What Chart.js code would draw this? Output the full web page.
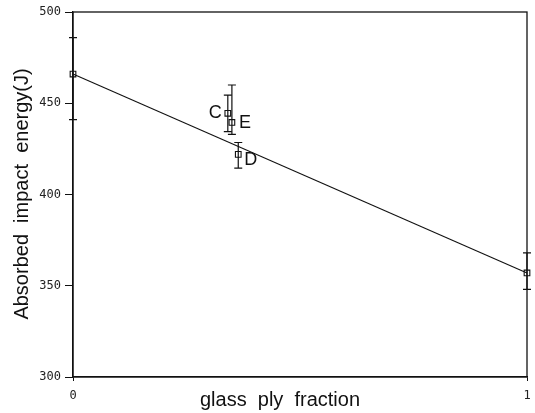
<!DOCTYPE html>
<html>
<head>
<meta charset="utf-8">
<script src="https://cdn.jsdelivr.net/npm/chart.js@4/dist/chart.umd.min.js"></script>
<style>
  html, body { margin: 0; padding: 0; background: #fff; }
  #wrap { width: 535px; height: 413px; }
</style>
</head>
<body>
<div id="wrap"><canvas id="c" width="535" height="413"></canvas></div>
<script>
// Measured specimens: glass ply fraction vs absorbed impact energy
const plyFraction = [0, 0.341, 0.350, 0.364, 1];
const energy      = [466, 444.5, 439.5, 422, 357];
const errUpper    = [486, 454.5, 460, 428.5, 368];
const errLower    = [441, 434.5, 433, 414.5, 348];
const pointNames  = ['', 'C', 'E', 'D', ''];

// Fitted straight line through the end members
const fitX = [0, 1];
const fitY = [466, 357];

const yTicks = [300, 350, 400, 450, 500];
const xTicks = [0, 1];

const xTitle = 'glass  ply  fraction';
const yTitle = 'Absorbed  impact  energy(J)';

const errorBarsAndFrame = {
  id: 'errorBarsAndFrame',
  afterDatasetsDraw(chart) {
    const ctx = chart.ctx;
    const xs = chart.scales.x, ys = chart.scales.y;
    const a = chart.chartArea;
    ctx.save();
    // frame
    ctx.strokeStyle = '#111';
    ctx.lineWidth = 1.3;
    ctx.strokeRect(a.left, a.top, a.right - a.left, a.bottom - a.top);
    // error bars
    ctx.lineWidth = 1.2;
    for (let i = 0; i < plyFraction.length; i++) {
      const px = xs.getPixelForValue(plyFraction[i]);
      const top = ys.getPixelForValue(errUpper[i]);
      const bot = ys.getPixelForValue(errLower[i]);
      ctx.beginPath();
      ctx.moveTo(px, top); ctx.lineTo(px, bot);
      ctx.moveTo(px - 4, top); ctx.lineTo(px + 4, top);
      ctx.moveTo(px - 4, bot); ctx.lineTo(px + 4, bot);
      ctx.stroke();
    }
    // point letters
    ctx.fillStyle = '#111';
    ctx.font = '18px "Liberation Sans", Arial, sans-serif';
    ctx.textBaseline = 'middle';
    const offs = { C: [-6, 0, 'right'], E: [7, 1, 'left'], D: [6, 6, 'left'] };
    for (let i = 0; i < plyFraction.length; i++) {
      const name = pointNames[i];
      if (!name) continue;
      const o = offs[name];
      ctx.textAlign = o[2];
      ctx.fillText(name,
        xs.getPixelForValue(plyFraction[i]) + o[0],
        ys.getPixelForValue(energy[i]) + o[1]);
    }
    // axis titles
    ctx.font = '20px "Liberation Sans", Arial, sans-serif';
    ctx.textBaseline = 'alphabetic';
    ctx.textAlign = 'center';
    ctx.fillText(xTitle, 280, 406);
    ctx.translate(28, 194);
    ctx.rotate(-Math.PI / 2);
    ctx.fillText(yTitle, 0, 0);
    ctx.restore();
  }
};

new Chart(document.getElementById('c'), {
  type: 'scatter',
  data: {
    datasets: [
      {
        type: 'line',
        data: fitX.map((x, i) => ({ x, y: fitY[i] })),
        borderColor: '#111',
        borderWidth: 1.1,
        pointRadius: 0,
        fill: false,
        clip: false
      },
      {
        data: plyFraction.map((x, i) => ({ x, y: energy[i] })),
        pointStyle: 'rect',
        pointRadius: 4,
        backgroundColor: 'rgba(255,255,255,0)',
        borderColor: '#111',
        borderWidth: 1.1,
        clip: false
      }
    ]
  },
  options: {
    responsive: false,
    animation: false,
    events: [],
    layout: { padding: { left: 0, top: 12, right: 8, bottom: 0 } },
    plugins: { legend: { display: false }, tooltip: { enabled: false } },
    scales: {
      x: {
        type: 'linear',
        min: 0, max: 1,
        afterBuildTicks: s => { s.ticks = xTicks.map(v => ({ value: v })); },
        afterFit: s => { s.height = 36; s.paddingRight = 0; s.paddingLeft = 0; },
        grid: { drawOnChartArea: false, drawTicks: true, tickLength: 4, color: '#111' },
        border: { display: true, color: '#111', width: 1.3 },
        ticks: {
          color: '#222', padding: 8,
          font: { family: '"DejaVu Sans Mono", monospace', size: 12 }
        },
        title: { display: false }
      },
      y: {
        type: 'linear',
        min: 300, max: 500,
        afterBuildTicks: s => { s.ticks = yTicks.map(v => ({ value: v })); },
        afterFit: s => { s.width = 73; s.paddingTop = 0; s.paddingBottom = 0; },
        grid: { drawOnChartArea: false, drawTicks: true, tickLength: 8, color: '#111' },
        border: { display: true, color: '#111', width: 1.3 },
        ticks: {
          color: '#222', padding: 4,
          font: { family: '"DejaVu Sans Mono", monospace', size: 12 }
        },
        title: { display: false }
      }
    }
  },
  plugins: [errorBarsAndFrame]
});
</script>
</body>
</html>
